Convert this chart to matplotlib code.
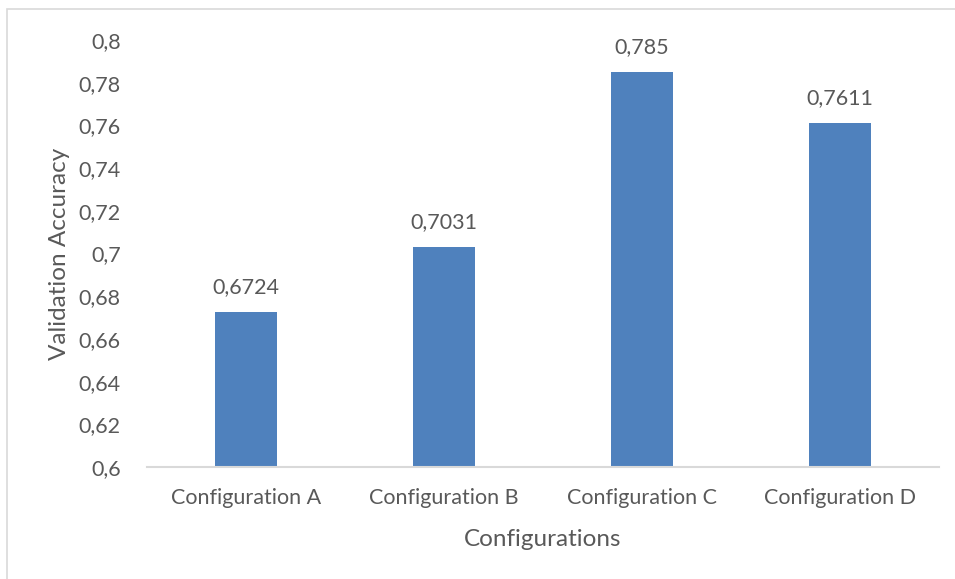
import matplotlib.pyplot as plt
from matplotlib.patches import Rectangle
from matplotlib.ticker import FuncFormatter

configs = ["Configuration A", "Configuration B", "Configuration C", "Configuration D"]
accuracy = [0.6724, 0.7031, 0.785, 0.7611]
value_labels = ["0,6724", "0,7031", "0,785", "0,7611"]

text_color = "#595959"
plt.rcParams['font.family'] = ['Lato', 'DejaVu Sans']

fig = plt.figure(figsize=(9.55, 5.79), dpi=100)
ax = fig.add_axes([0.154, 0.1934, 0.829, 0.7375])

x = range(len(configs))
bars = ax.bar(x, accuracy, width=0.313, color="#4f81bd", zorder=2)

for b, lab in zip(bars, value_labels):
    ax.annotate(lab, (b.get_x() + b.get_width() / 2, b.get_height()),
                xytext=(0, 11), textcoords="offset points",
                ha="center", va="bottom", fontsize=15.5, color=text_color)

ax.set_xlim(-0.5, len(configs) - 0.5)
ax.set_ylim(0.6, 0.8)
ax.set_yticks([0.6 + 0.02 * i for i in range(11)])
ax.yaxis.set_major_formatter(FuncFormatter(lambda v, p: f"{v:.2f}".rstrip("0").replace(".", ",")))
ax.set_xticks(list(x))
ax.set_xticklabels(configs)

ax.tick_params(axis="both", length=0, labelsize=15.5, colors=text_color)
ax.tick_params(axis="y", pad=19)
ax.tick_params(axis="x", pad=15)

for s in ["top", "right", "left"]:
    ax.spines[s].set_visible(False)
ax.spines["bottom"].set_color("#d9d9d9")
ax.spines["bottom"].set_linewidth(1.5)

ax.set_xlabel("Configurations", fontsize=17.5, color=text_color, labelpad=15)
ax.set_ylabel("Validation Accuracy", fontsize=17.5, color=text_color, labelpad=6)

# chart area border
fig.patches.append(Rectangle((7 / 955, -0.1), 1.2, 1 - 9 / 579 + 0.1,
                             transform=fig.transFigure, fill=False,
                             edgecolor="#d9d9d9", linewidth=1.2))

fig.savefig("out.png", dpi=100)
